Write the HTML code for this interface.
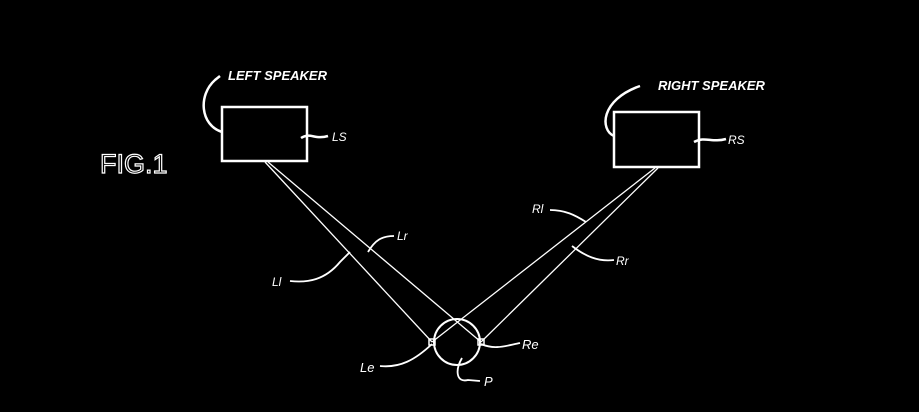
<!DOCTYPE html>
<html><head><style>
html,body{margin:0;padding:0;background:#000;}
svg{display:block}
text{font-family:"Liberation Sans",sans-serif;fill:#fff;font-style:italic}
</style></head><body>
<svg width="919" height="412" viewBox="0 0 919 412">
<rect width="919" height="412" fill="#000"/>
<g stroke="#fff" fill="none" stroke-width="2.5">
<rect x="222" y="107" width="85" height="54"/>
<rect x="614" y="112" width="85" height="55"/>
<path d="M222 132 C200 125 198 95 215 80 L220 76"/>
<path d="M614 136 C600 130 600 100 640 86"/>
<path d="M301 138 C310 132 315 140 328 136"/>
<path d="M694 142 C705 136 712 143 726 139"/>
</g>
<g stroke="#fff" fill="none" stroke-width="1.3">
<line x1="265" y1="162" x2="432" y2="342"/>
<line x1="268" y1="162" x2="481" y2="342"/>
<line x1="655" y1="168" x2="432" y2="342"/>
<line x1="658" y1="168" x2="481" y2="342"/>
<circle cx="457" cy="342" r="23" stroke-width="2"/>
<path d="M290 281 C308 283 325 280 340 262 L350 252" stroke-width="1.8"/>
<path d="M368 252 C375 240 382 236 394 236" stroke-width="1.8"/>
<path d="M550 210 C565 210 575 215 586 222" stroke-width="1.8"/>
<path d="M572 246 C585 256 598 262 614 260" stroke-width="1.8"/>
<path d="M380 366 C400 368 415 360 432 344" stroke-width="1.8"/>
<path d="M481 344 C495 350 505 346 520 343" stroke-width="1.8"/>
<path d="M462 358 C455 370 456 383 468 380 L480 381" stroke-width="1.8"/>
</g>
<rect x="429" y="339" width="6" height="6" fill="none" stroke="#fff" stroke-width="1.5"/>
<rect x="478" y="339" width="6" height="6" fill="none" stroke="#fff" stroke-width="1.5"/>
<text x="228" y="80" font-size="13" font-weight="bold">LEFT SPEAKER</text>
<text x="658" y="90" font-size="13" font-weight="bold">RIGHT SPEAKER</text>
<text x="332" y="141" font-size="12">LS</text>
<text x="728" y="144" font-size="12">RS</text>
<text x="397" y="240" font-size="12">Lr</text>
<text x="272" y="286" font-size="12">Ll</text>
<text x="532" y="213" font-size="12">Rl</text>
<text x="616" y="265" font-size="12">Rr</text>
<text x="360" y="372" font-size="13">Le</text>
<text x="522" y="349" font-size="13">Re</text>
<text x="484" y="386" font-size="13">P</text>
<text x="100" y="173" font-size="27" font-family="Liberation Serif" style="font-style:normal;fill:#000;stroke:#fff;stroke-width:1.2">FIG.1</text>
</svg>
</body></html>
